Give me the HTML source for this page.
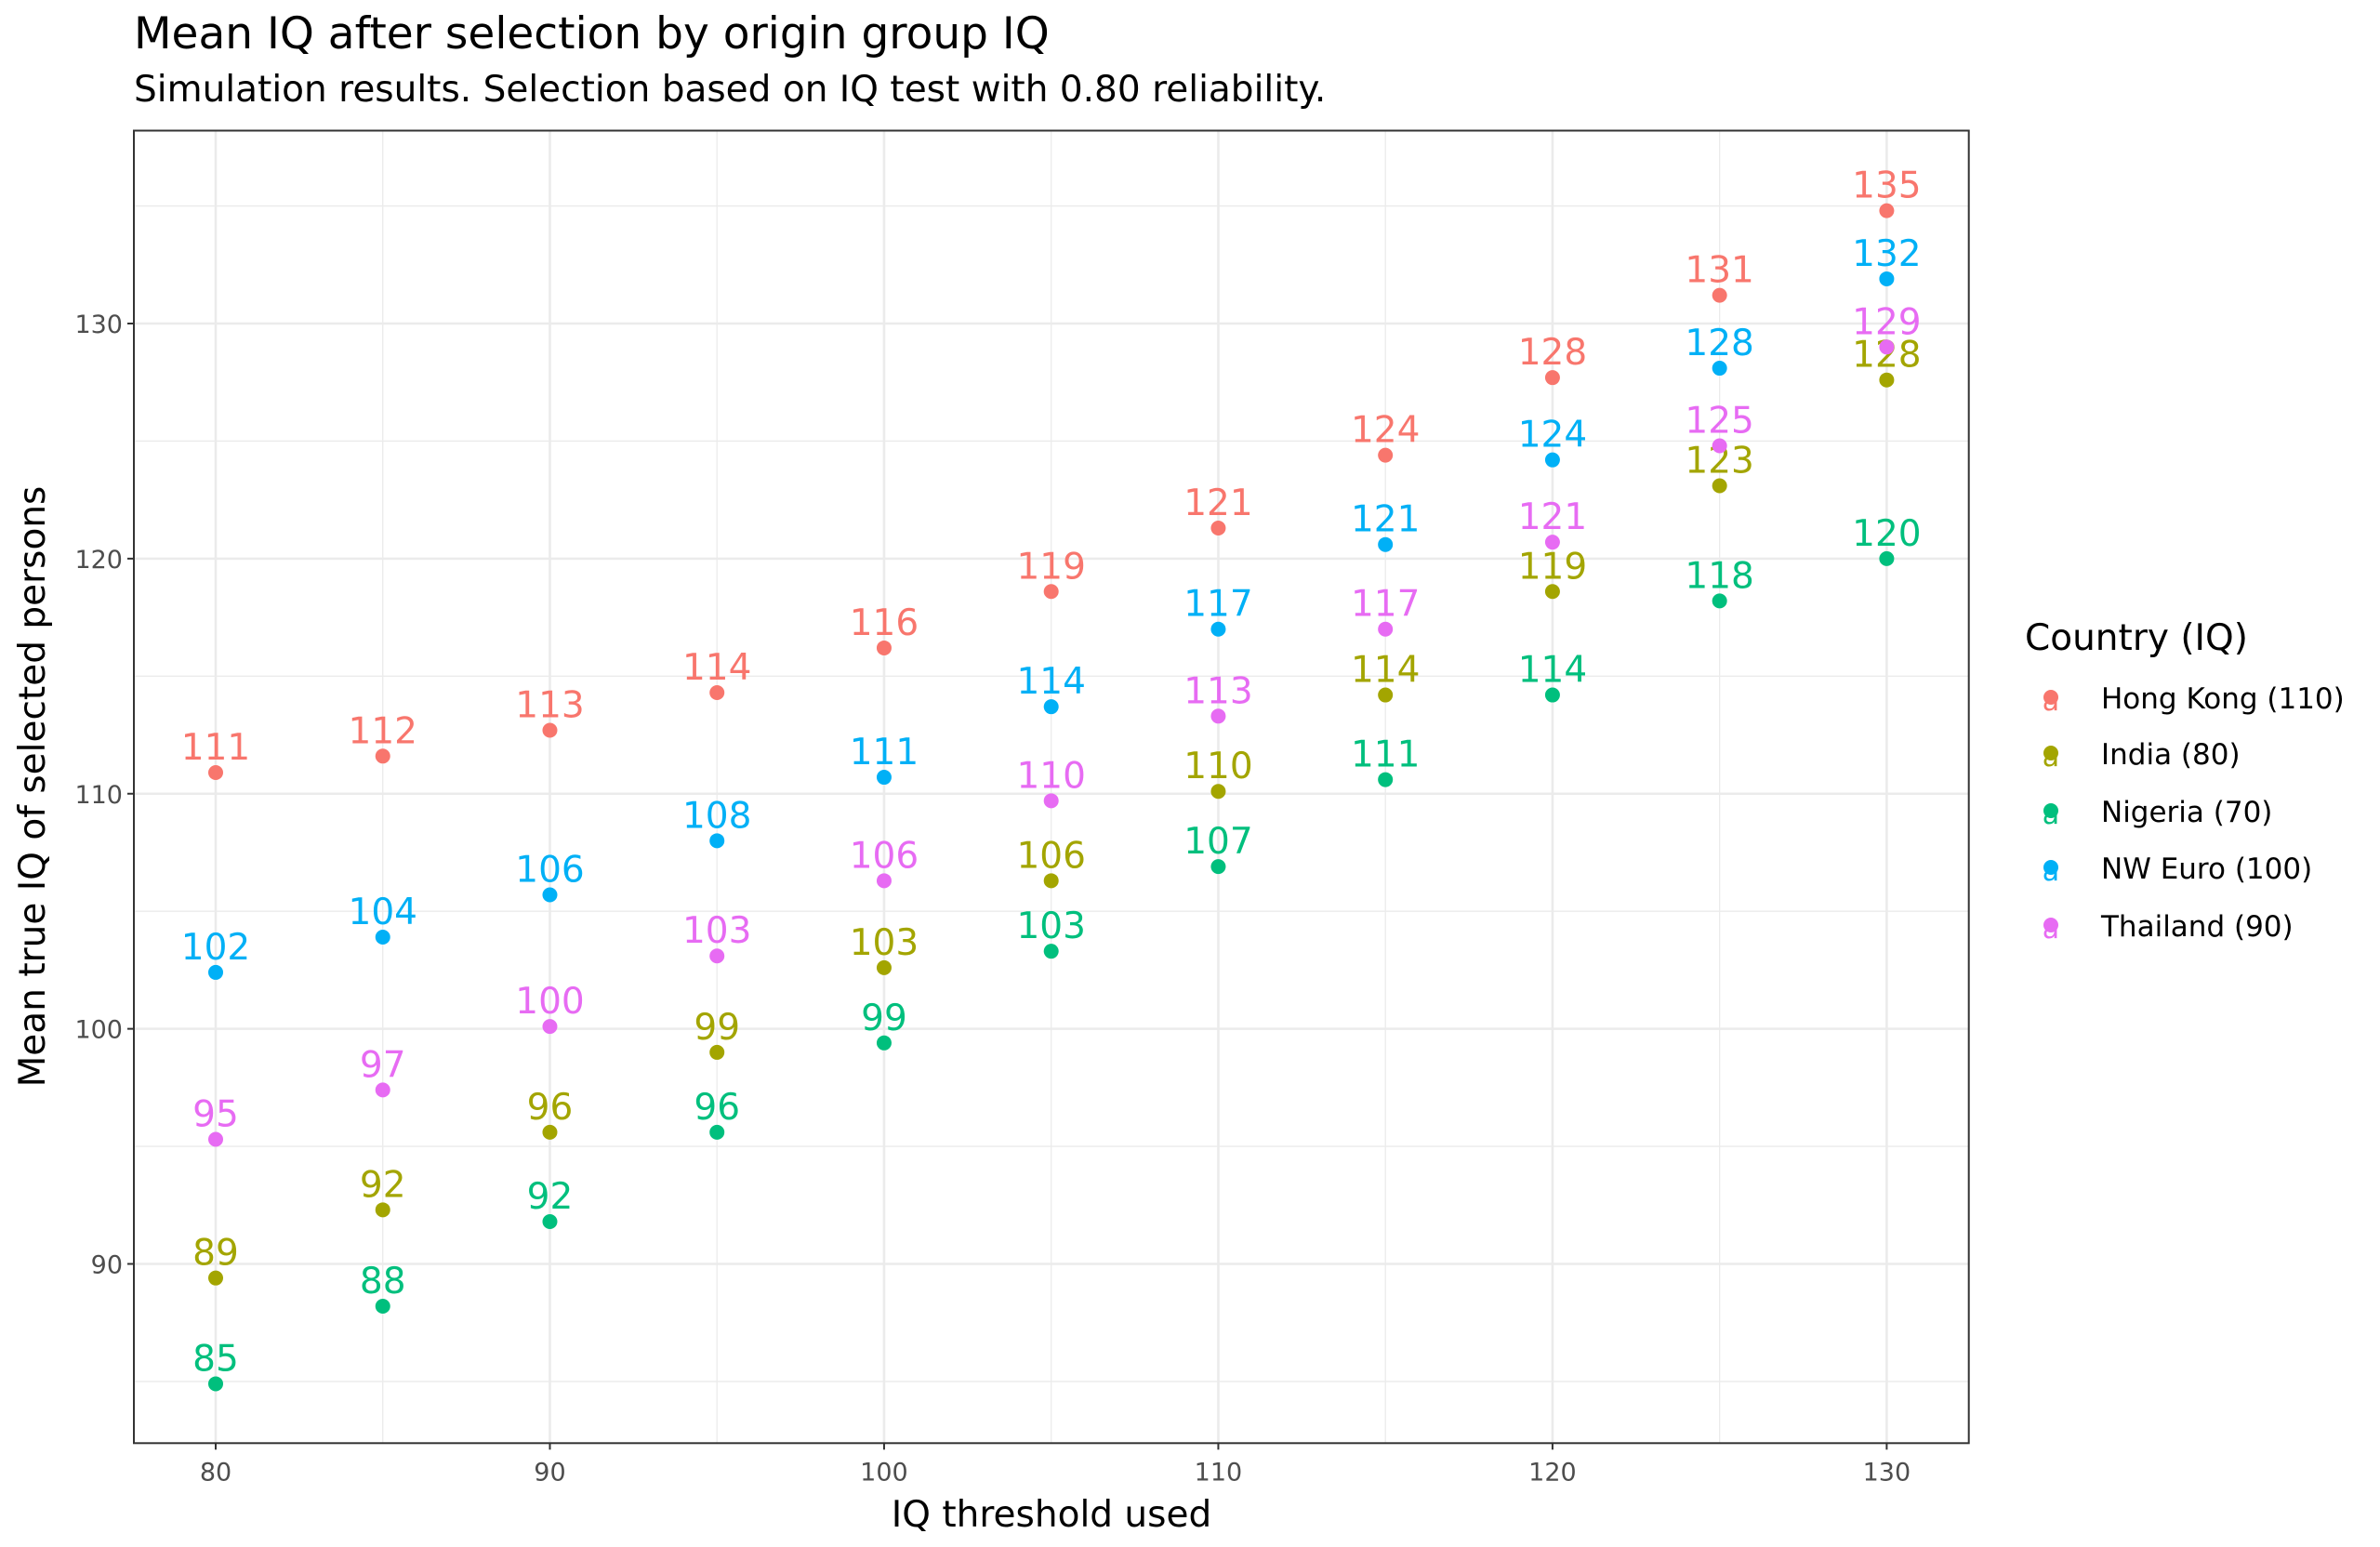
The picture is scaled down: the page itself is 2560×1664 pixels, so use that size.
<!DOCTYPE html>
<html><head><meta charset="utf-8"><style>
html,body{margin:0;padding:0;background:#fff;}
svg{display:block;font-family:"DejaVu Sans","Liberation Sans",sans-serif;}
</style></head><body>
<svg id="chart" width="2560" height="1664" viewBox="0 0 2560 1664">
<text x="144" y="52" font-size="47" fill="#000">Mean IQ after selection by origin group IQ</text>
<text x="144" y="109" font-size="39" fill="#000">Simulation results. Selection based on IQ test with 0.80 reliability.</text>
<g id="grid"></g>
<g id="marks"></g>
<rect x="144" y="140.5" width="1973.7" height="1411.8" fill="none" stroke="#333" stroke-width="2"/>
<g id="axes"></g>
<text x="1131" y="1642" font-size="39" text-anchor="middle" fill="#000">IQ threshold used</text>
<text transform="translate(48,846) rotate(-90)" font-size="39" text-anchor="middle" fill="#000">Mean true IQ of selected persons</text>
<text x="2178" y="699" font-size="39" fill="#000">Country (IQ)</text>
<g id="legend"></g>
</svg>
<script>
const thresholds = [80,85,90,95,100,105,110,115,120,125,130];
const seriesNames = ["Hong Kong (110)","India (80)","Nigeria (70)","NW Euro (100)","Thailand (90)"];
const seriesColors = ["#F8766D","#A3A500","#00BF7D","#00B0F6","#E76BF3"];
const hongKong = [110.9,111.6,112.7,114.3,116.2,118.6,121.3,124.4,127.7,131.2,134.8];
const india = [89.4,92.3,95.6,99.0,102.6,106.3,110.1,114.2,118.6,123.1,127.6];
const nigeria = [84.9,88.2,91.8,95.6,99.4,103.3,106.9,110.6,114.2,118.2,120.0];
const nwEuro = [102.4,103.9,105.7,108.0,110.7,113.7,117.0,120.6,124.2,128.1,131.9];
const thailand = [95.3,97.4,100.1,103.1,106.3,109.7,113.3,117.0,120.7,124.8,129.0];
const xTicks = [80,90,100,110,120,130];
const yTicks = [90,100,110,120,130];
const xMinor = [85,95,105,115,125];
const yMinor = [85,95,105,115,125,135];

const series = [hongKong, india, nigeria, nwEuro, thailand];
const NS = "http://www.w3.org/2000/svg";
const PL=144, PR=2117.7, PT=140.5, PB=1552.3;
function xs(v){ return 232 + (v-80)*(2029.4-232)/50; }
function ys(v){ return 1359.5 - (v-90)*(1359.5-348)/40; }
function mk(tag, attrs, parent){ const e=document.createElementNS(NS,tag); for(const k in attrs) e.setAttribute(k,attrs[k]); parent.appendChild(e); return e; }

const grid=document.getElementById('grid');
xMinor.forEach(v=>{ const l=mk('line',{x1:xs(v),x2:xs(v),y1:PT,y2:PB,stroke:'#ebebeb','stroke-width':1.3},grid);

 });
yMinor.forEach(v=>{ const l=mk('line',{x1:PL,x2:PR,y1:ys(v),y2:ys(v),stroke:'#ebebeb','stroke-width':1.3},grid);

 });
xTicks.forEach(v=>{ const l=mk('line',{x1:xs(v),x2:xs(v),y1:PT,y2:PB,stroke:'#ebebeb','stroke-width':2.6},grid);

 });
yTicks.forEach(v=>{ const l=mk('line',{x1:PL,x2:PR,y1:ys(v),y2:ys(v),stroke:'#ebebeb','stroke-width':2.6},grid);

 });

const axes=document.getElementById('axes');
xTicks.forEach(v=>{
  const t=mk('line',{x1:xs(v),x2:xs(v),y1:PB,y2:PB+7,stroke:'#333','stroke-width':2},axes);
  
  
  const tx=mk('text',{x:xs(v),y:PB+40,'font-size':27,'text-anchor':'middle',fill:'#4d4d4d'},axes);
  tx.textContent=v;
  
  
});
yTicks.forEach(v=>{
  const t=mk('line',{x1:PL-7,x2:PL,y1:ys(v),y2:ys(v),stroke:'#333','stroke-width':2},axes);
  
  
  const tx=mk('text',{x:PL-12,y:ys(v)+10,'font-size':27,'text-anchor':'end',fill:'#4d4d4d'},axes);
  tx.textContent=v;
  
  
});

const marks=document.getElementById('marks');
series.forEach((vals,si)=>{
  vals.forEach((v,i)=>{
    const c=mk('circle',{cx:xs(thresholds[i]),cy:ys(v),r:8,fill:seriesColors[si]},marks);
    
    
    const t=mk('text',{x:xs(thresholds[i]),y:ys(v)-14,'font-size':39,'text-anchor':'middle',fill:seriesColors[si]},marks);
    t.textContent=Math.round(v);
    
    
  });
});

const legend=document.getElementById('legend');
const legY=[752,812,874,935,997];
seriesNames.forEach((n,i)=>{
  const k=mk('text',{x:2206,y:legY[i]+12,'font-size':30,'text-anchor':'middle',fill:seriesColors[i]},legend);
  k.textContent='a';
  
  
  const d=mk('circle',{cx:2206,cy:legY[i]-2,r:8,fill:seriesColors[i]},legend);
  
  
  const t=mk('text',{x:2260,y:legY[i]+10,'font-size':31,fill:'#000'},legend);
  t.textContent=n;
  
  
});
</script>
</body></html>
